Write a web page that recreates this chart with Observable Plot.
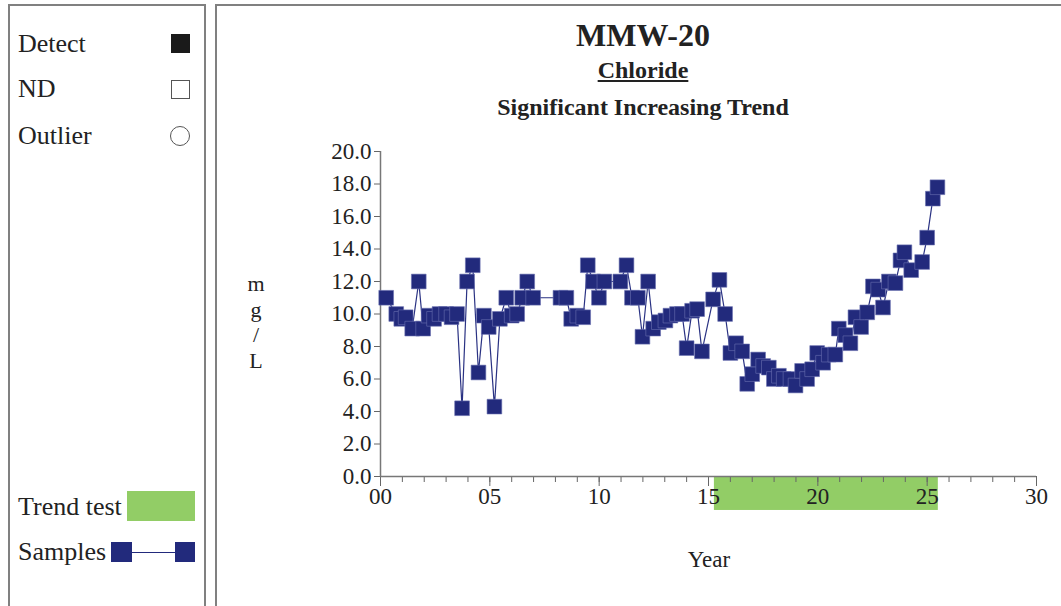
<!DOCTYPE html>
<html>
<head>
<meta charset="utf-8">
<script src="https://cdn.jsdelivr.net/npm/d3@7"></script>
<script src="https://cdn.jsdelivr.net/npm/@observablehq/plot@0.6"></script>
<style>
  html, body { margin: 0; padding: 0; background: #fff; }
  body { width: 1061px; height: 606px; position: relative; overflow: hidden; font-family: "Liberation Serif", serif; color: #222; }
  .abs { position: absolute; white-space: nowrap; }
  .panel { position: absolute; border: 2px solid #808080; box-sizing: border-box; }
  .leg { position: absolute; font-size: 26px; line-height: 28px; height: 28px; }
  #chart { position: absolute; left: 216px; top: 130px; }
</style>
</head>
<body>
<div class="panel" style="left:8px; top:4px; width:198px; height:640px;"></div>
<div class="panel" style="left:215px; top:4px; width:900px; height:640px;"></div>

<div class="leg" style="left:18px; top:30px;">Detect</div>
<div class="abs" style="left:171px; top:34px; width:19px; height:19px; background:#1a1a1a;"></div>
<div class="leg" style="left:18px; top:75px;">ND</div>
<div class="abs" style="left:171px; top:80px; width:17px; height:17px; border:1px solid #555;"></div>
<div class="leg" style="left:18px; top:122px;">Outlier</div>
<div class="abs" style="left:170px; top:126px; width:18px; height:18px; border:1px solid #555; border-radius:50%;"></div>

<div class="leg" style="left:18px; top:493px;">Trend test</div>
<div class="abs" style="left:127px; top:491px; width:68px; height:30px; background:#92cd66;"></div>
<div class="leg" style="left:18px; top:538px;">Samples</div>
<div class="abs" style="left:111px; top:542px; width:21px; height:20px; background:#222a7c;"></div>
<div class="abs" style="left:132px; top:552px; width:43px; height:1px; background:#222a7c;"></div>
<div class="abs" style="left:175px; top:542px; width:20px; height:20px; background:#222a7c;"></div>

<div class="abs" style="left:443px; top:15px; width:400px; text-align:center; font-size:32px; font-weight:bold; line-height:40px;">MMW-20</div>
<div class="abs" style="left:443px; top:56px; width:400px; text-align:center; font-size:24px; font-weight:bold; line-height:28px;"><span style="text-decoration:underline;">Chloride</span></div>
<div class="abs" style="left:393px; top:93px; width:500px; text-align:center; font-size:24px; font-weight:bold; line-height:28px;">Significant Increasing Trend</div>

<div class="abs" style="left:246px; top:271px; width:20px; text-align:center; font-size:22px; line-height:25.5px; white-space:normal;">m<br>g<br>/<br>L</div>
<div class="abs" style="left:609px; top:546px; width:200px; text-align:center; font-size:23px; line-height:28px;">Year</div>

<div id="chart"></div>

<script>
const years = [0.26, 0.72, 0.95, 1.15, 1.45, 1.75, 1.95, 2.2, 2.45, 2.7, 3.0, 3.25, 3.5, 3.73, 3.96, 4.22, 4.48, 4.73, 4.95, 5.21, 5.46, 5.75, 6.0, 6.25, 6.48, 6.71, 6.98,
  8.23, 8.5, 8.72, 9.0, 9.27, 9.48, 9.72, 9.99, 10.24, 10.97, 11.25, 11.5, 11.77, 11.98, 12.24, 12.47, 12.73, 13.03, 13.26, 13.56, 13.79, 14.0, 14.25, 14.48, 14.7,
  15.21, 15.5, 15.76, 16.0, 16.26, 16.54, 16.77, 17.0, 17.27, 17.5, 17.76, 17.99, 18.22, 18.44, 18.75, 18.98, 19.28, 19.51, 19.74, 19.97, 20.24, 20.5, 20.8, 20.96,
  21.26, 21.49, 21.72, 21.98, 22.26, 22.52, 22.76, 22.98, 23.25, 23.55, 23.78, 23.96, 24.27, 24.77, 25.0, 25.26, 25.47];
const chloride = [11.0, 10.0, 9.7, 9.8, 9.1, 12.0, 9.1, 9.9, 9.7, 10.0, 10.0, 9.8, 10.0, 4.2, 12.0, 13.0, 6.4, 9.9, 9.2, 4.3, 9.7, 11.0, 9.9, 10.0, 11.0, 12.0, 11.0,
  11.0, 11.0, 9.7, 9.9, 9.8, 13.0, 12.0, 11.0, 12.0, 12.0, 13.0, 11.0, 11.0, 8.6, 12.0, 9.1, 9.5, 9.6, 9.9, 10.0, 10.0, 7.9, 10.2, 10.3, 7.7,
  10.9, 12.1, 10.0, 7.6, 8.2, 7.7, 5.7, 6.3, 7.2, 6.8, 6.7, 6.0, 6.2, 6.0, 6.0, 5.6, 6.5, 6.0, 6.6, 7.6, 7.0, 7.5, 7.5, 9.1,
  8.7, 8.2, 9.8, 9.2, 10.1, 11.7, 11.5, 10.4, 12.0, 11.9, 13.3, 13.8, 12.7, 13.2, 14.7, 17.1, 17.8];
const trendStart = [15.27];
const trendEnd = [25.51];
const xMajorTicks = [0, 5, 10, 15, 20, 25, 30];
const xMinorTicks = d3.range(0, 31, 1);
const yTicks = [0, 2, 4, 6, 8, 10, 12, 14, 16, 18, 20];

const samples = years.map((x, i) => ({x, y: chloride[i]}));
const trend = trendStart.map((s, i) => ({x1: s, x2: trendEnd[i]}));

const chart = Plot.plot({
  width: 845,
  height: 476,
  marginLeft: 164,
  marginRight: 25,
  marginTop: 21,
  marginBottom: 130,
  x: {domain: [0, 30]},
  y: {domain: [0, 20]},
  style: {fontFamily: "Liberation Serif", fontSize: "23px", color: "#222", background: "transparent", overflow: "visible"},
  marks: [
    Plot.rect(trend, {x1: "x1", x2: "x2", y1: 0, y2: -2.09, fill: "#92cd66"}),
    Plot.axisX({ticks: xMinorTicks, tickSize: 6, tickFormat: () => "", label: null, stroke: "#666"}),
    Plot.axisX({ticks: xMajorTicks, tickSize: 10, tickPadding: 1, tickFormat: d3.format("02d"), label: null, stroke: "#666", fill: "#222"}),
    Plot.axisY({ticks: yTicks, tickSize: 6, tickPadding: 3, tickFormat: d3.format(".1f"), label: null, stroke: "#666", fill: "#222"}),
    Plot.ruleY([0], {stroke: "#777", strokeWidth: 1.5}),
    Plot.ruleX([0], {stroke: "#777", strokeWidth: 1.5}),
    Plot.line(samples, {x: "x", y: "y", stroke: "#2a3283", strokeWidth: 1.2}),
    Plot.dot(samples, {x: "x", y: "y", symbol: "square", r: 8.3, fill: "#222a7c", stroke: "#6a70b0", strokeWidth: 0.6})
  ]
});
document.getElementById("chart").appendChild(chart);
</script>
</body>
</html>
